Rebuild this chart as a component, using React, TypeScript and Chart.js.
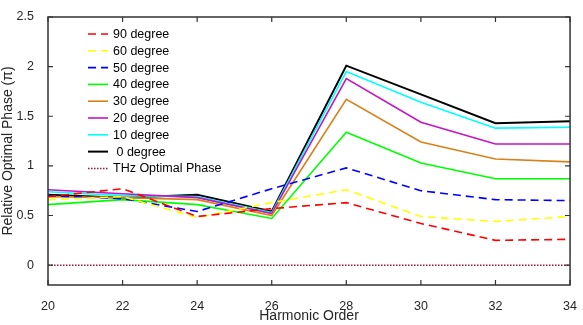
import React, { useEffect, useRef } from "react";
import { Chart, registerables } from "chart.js";

Chart.register(...registerables);

const harmonics = [20, 22, 24, 26, 28, 30, 32, 34];
const deg90 = [0.69, 0.77, 0.49, 0.57, 0.63, 0.42, 0.25, 0.26];
const deg60 = [0.66, 0.69, 0.48, 0.63, 0.76, 0.49, 0.44, 0.49];
const deg50 = [0.70, 0.67, 0.54, 0.77, 0.98, 0.75, 0.66, 0.65];
const deg40 = [0.61, 0.66, 0.61, 0.47, 1.34, 1.03, 0.87, 0.87];
const deg30 = [0.69, 0.68, 0.66, 0.50, 1.67, 1.24, 1.07, 1.04];
const deg20 = [0.76, 0.72, 0.68, 0.52, 1.88, 1.44, 1.22, 1.22];
const deg10 = [0.74, 0.70, 0.69, 0.53, 1.95, 1.64, 1.38, 1.39];
const deg0 = [0.71, 0.68, 0.71, 0.54, 2.01, 1.72, 1.43, 1.45];
const thzPhase = [0, 0, 0, 0, 0, 0, 0, 0];

const seriesLabels = [
  "90 degree",
  "60 degree",
  "50 degree",
  "40 degree",
  "30 degree",
  "20 degree",
  "10 degree",
  " 0 degree",
  "THz Optimal Phase",
];
const xTicks = [20, 22, 24, 26, 28, 30, 32, 34];
const yTicks = [0, 0.5, 1, 1.5, 2, 2.5];
const X_MIN = 20;
const X_MAX = 34;
const Y_MIN = -0.2;
const Y_MAX = 2.5;

const FONT = "'Liberation Sans', Arial, sans-serif";
const AXIS_COLOR = "#333333";

const framePlugin = {
  id: "matlabFrame",
  afterDatasetsDraw(chart: any) {
    const ctx: CanvasRenderingContext2D = chart.ctx;
    const xs = chart.scales.x;
    const ys = chart.scales.y;
    const L = xs.getPixelForValue(X_MIN);
    const R = xs.getPixelForValue(X_MAX);
    const T = ys.getPixelForValue(Y_MAX);
    const B = ys.getPixelForValue(Y_MIN);
    ctx.save();
    ctx.setLineDash([]);
    ctx.globalAlpha = 1;
    ctx.strokeStyle = AXIS_COLOR;
    ctx.lineWidth = 1.5;
    ctx.lineCap = "butt";
    ctx.beginPath();
    ctx.rect(L, T, R - L, B - T);
    ctx.stroke();
    ctx.lineWidth = 1.2;
    ctx.beginPath();
    const tl = 5;
    xTicks.forEach((v) => {
      const px = xs.getPixelForValue(v);
      ctx.moveTo(px, B);
      ctx.lineTo(px, B - tl);
      ctx.moveTo(px, T);
      ctx.lineTo(px, T + tl);
    });
    yTicks.forEach((v) => {
      const py = ys.getPixelForValue(v);
      ctx.moveTo(L, py);
      ctx.lineTo(L + tl, py);
      ctx.moveTo(R, py);
      ctx.lineTo(R - tl, py);
    });
    ctx.stroke();
    ctx.restore();
  },
  afterDraw(chart: any) {
    const ctx: CanvasRenderingContext2D = chart.ctx;
    const lx = 88;
    const ly0 = 34;
    const step = 16.8;
    ctx.save();
    ctx.font = `12.5px ${FONT}`;
    ctx.textBaseline = "middle";
    ctx.textAlign = "left";
    chart.data.datasets.forEach((ds: any, i: number) => {
      const y = ly0 + i * step;
      ctx.save();
      ctx.strokeStyle = ds.borderColor;
      ctx.lineWidth = ds.borderWidth;
      ctx.setLineDash(ds.borderDash || []);
      ctx.beginPath();
      ctx.moveTo(lx, y);
      ctx.lineTo(lx + 20, y);
      ctx.stroke();
      ctx.restore();
      ctx.fillStyle = "#000";
      ctx.fillText(ds.label, lx + 25, y + 0.5);
    });
    ctx.restore();
  },
};

function mk(label: string, values: number[], color: string, dash: number[], width: number) {
  return {
    label,
    data: harmonics.map((h, i) => ({ x: h, y: values[i] })),
    borderColor: color,
    backgroundColor: color,
    borderWidth: width,
    borderDash: dash,
    pointRadius: 0,
    tension: 0,
    fill: false,
  };
}

export default function App() {
  const ref = useRef<HTMLCanvasElement>(null);
  useEffect(() => {
    if (!ref.current) return;
    const dashed = [8, 5];
    const chart = new Chart(ref.current, {
      type: "line",
      data: {
        datasets: [
          mk(seriesLabels[0], deg90, "#FF0000", dashed, 1.6),
          mk(seriesLabels[1], deg60, "#FFFF00", dashed, 1.6),
          mk(seriesLabels[2], deg50, "#0000FF", dashed, 1.6),
          mk(seriesLabels[3], deg40, "#00FF00", [], 1.6),
          mk(seriesLabels[4], deg30, "#D98019", [], 1.6),
          mk(seriesLabels[5], deg20, "#C414C4", [], 1.6),
          mk(seriesLabels[6], deg10, "#00FFFF", [], 1.6),
          mk(seriesLabels[7], deg0, "#000000", [], 2),
          mk(seriesLabels[8], thzPhase, "#A2142F", [1.5, 1.5], 1.5),
        ] as any,
      },
      options: {
        animation: false,
        responsive: false,
        layout: { padding: { top: 17, right: 7, left: 0, bottom: 0 } },
        plugins: { legend: { display: false }, tooltip: { enabled: false } },
        scales: {
          x: {
            type: "linear",
            min: X_MIN,
            max: X_MAX,
            grid: { display: false },
            border: { display: false },
            afterBuildTicks: (s: any) => {
              s.ticks = xTicks.map((v) => ({ value: v }));
            },
            afterFit: (s: any) => {
              s.height = 40;
            },
            ticks: {
              color: "#262626",
              font: { family: FONT, size: 12.5 },
              padding: 6,
              maxRotation: 0,
              callback: (v: any) => `${v}`,
            },
            title: {
              display: true,
              text: "Harmonic Order",
              color: "#262626",
              font: { family: FONT, size: 14 },
              padding: { top: 0, bottom: 0 },
            },
          },
          y: {
            type: "linear",
            min: Y_MIN,
            max: Y_MAX,
            grid: { display: false },
            border: { display: false },
            afterBuildTicks: (s: any) => {
              s.ticks = yTicks.map((v) => ({ value: v }));
            },
            afterFit: (s: any) => {
              s.width = 48;
            },
            ticks: {
              color: "#262626",
              font: { family: FONT, size: 12.5 },
              padding: 6,
              callback: (v: any) => `${v}`,
            },
            title: {
              display: true,
              text: "Relative Optimal Phase (π)",
              color: "#262626",
              font: { family: FONT, size: 14 },
              padding: { top: 0, bottom: 0 },
            },
          },
        },
      },
      plugins: [framePlugin],
    });
    return () => chart.destroy();
  }, []);
  return (
    <div style={{ position: "fixed", left: 0, top: 0, width: 583, height: 325, background: "#fff" }}>
      <canvas ref={ref} width={583} height={325} style={{ display: "block" }} />
    </div>
  );
}
